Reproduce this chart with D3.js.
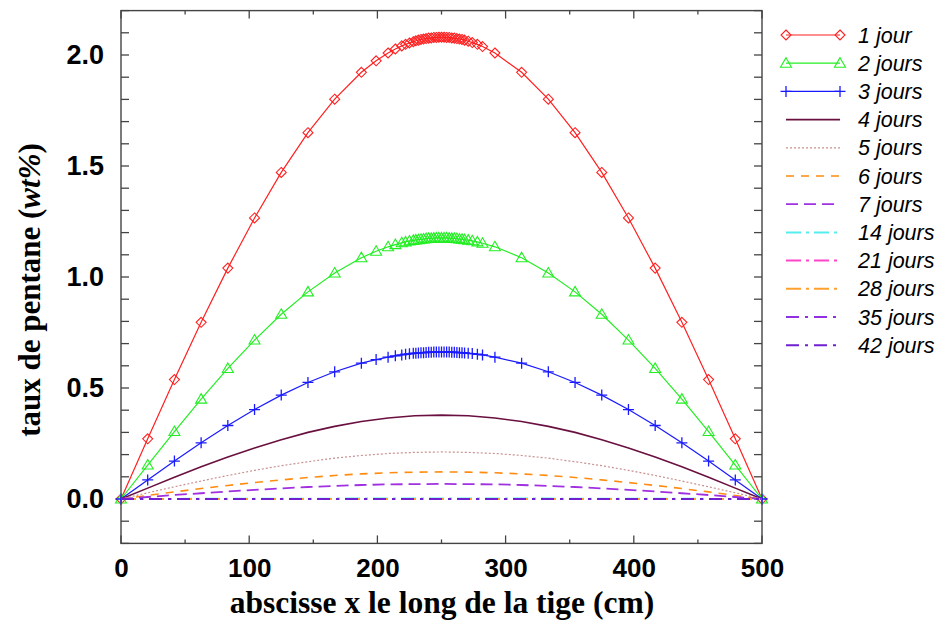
<!DOCTYPE html>
<html><head><meta charset="utf-8">
<script src="https://cdn.jsdelivr.net/npm/d3@7"></script>
<style>body{margin:0;background:#fff}svg{display:block}</style>
</head><body>
<svg id="c" width="940" height="621"></svg>
<script>
// Sampling abscissae (cm)
const xsDense = [0, 20.83, 41.67, 62.5, 83.33, 104.17, 125, 145.83, 166.67, 187.5, 199, 208.33, 214, 219, 222, 225, 228, 230, 232, 234, 236, 238, 240, 242, 244, 246, 248, 250, 252, 254, 256, 258, 260, 262, 264, 266, 268, 270.83, 274, 278, 282, 291.67, 312.5, 333.33, 354.17, 375, 395.83, 416.67, 437.5, 458.33, 479.17, 500];
const xsUniform = [0, 20.83, 41.67, 62.5, 83.33, 104.17, 125, 145.83, 166.67, 187.5, 208.33, 229.17, 250, 270.83, 291.67, 312.5, 333.33, 354.17, 375, 395.83, 416.67, 437.5, 458.33, 479.17, 500];

const day1 = [0, 0.271, 0.538, 0.796, 1.040, 1.266, 1.471, 1.650, 1.801, 1.922, 1.974, 2.009, 2.027, 2.041, 2.048, 2.054, 2.060, 2.064, 2.067, 2.070, 2.072, 2.074, 2.076, 2.077, 2.079, 2.079, 2.080, 2.080, 2.080, 2.079, 2.079, 2.077, 2.076, 2.074, 2.072, 2.070, 2.067, 2.062, 2.056, 2.048, 2.038, 2.009, 1.922, 1.801, 1.650, 1.471, 1.266, 1.040, 0.796, 0.538, 0.271, 0];
const day2 = [0, 0.153, 0.304, 0.450, 0.588, 0.716, 0.832, 0.933, 1.018, 1.087, 1.116, 1.136, 1.146, 1.154, 1.158, 1.162, 1.165, 1.167, 1.168, 1.170, 1.171, 1.173, 1.174, 1.174, 1.175, 1.176, 1.176, 1.176, 1.176, 1.176, 1.175, 1.174, 1.174, 1.173, 1.171, 1.170, 1.168, 1.166, 1.163, 1.158, 1.152, 1.136, 1.087, 1.018, 0.933, 0.832, 0.716, 0.588, 0.450, 0.304, 0.153, 0];
const day3 = [0, 0.086, 0.171, 0.253, 0.331, 0.403, 0.468, 0.525, 0.573, 0.612, 0.628, 0.639, 0.645, 0.649, 0.652, 0.654, 0.656, 0.657, 0.658, 0.659, 0.659, 0.660, 0.661, 0.661, 0.662, 0.662, 0.662, 0.662, 0.662, 0.662, 0.662, 0.661, 0.661, 0.660, 0.659, 0.659, 0.658, 0.656, 0.655, 0.652, 0.649, 0.639, 0.612, 0.573, 0.525, 0.468, 0.403, 0.331, 0.253, 0.171, 0.086, 0];
const day4 = [0, 0.049, 0.098, 0.145, 0.189, 0.230, 0.267, 0.300, 0.327, 0.349, 0.365, 0.375, 0.378, 0.375, 0.365, 0.349, 0.327, 0.300, 0.267, 0.230, 0.189, 0.145, 0.098, 0.049, 0];
const day5 = [0, 0.028, 0.055, 0.081, 0.106, 0.129, 0.150, 0.168, 0.184, 0.196, 0.205, 0.210, 0.212, 0.210, 0.205, 0.196, 0.184, 0.168, 0.150, 0.129, 0.106, 0.081, 0.055, 0.028, 0];
const day6 = [0, 0.016, 0.032, 0.047, 0.061, 0.074, 0.086, 0.097, 0.106, 0.113, 0.118, 0.121, 0.122, 0.121, 0.118, 0.113, 0.106, 0.097, 0.086, 0.074, 0.061, 0.047, 0.032, 0.016, 0];
const day7 = [0, 0.009, 0.018, 0.026, 0.034, 0.041, 0.048, 0.054, 0.059, 0.063, 0.066, 0.067, 0.068, 0.067, 0.066, 0.063, 0.059, 0.054, 0.048, 0.041, 0.034, 0.026, 0.018, 0.009, 0];
const day14 = [0, 0.0003, 0.0005, 0.0008, 0.001, 0.0012, 0.0014, 0.0016, 0.0017, 0.0018, 0.0019, 0.002, 0.002, 0.002, 0.0019, 0.0018, 0.0017, 0.0016, 0.0014, 0.0012, 0.001, 0.0008, 0.0005, 0.0003, 0];
const day21 = [0, 0, 0, 0, 0, 0, 0, 0, 0, 0, 0, 0, 0.0001, 0, 0, 0, 0, 0, 0, 0, 0, 0, 0, 0, 0];
const day28 = [0, 0, 0, 0, 0, 0, 0, 0, 0, 0, 0, 0, 0, 0, 0, 0, 0, 0, 0, 0, 0, 0, 0, 0, 0];
const day35 = [0, 0, 0, 0, 0, 0, 0, 0, 0, 0, 0, 0, 0, 0, 0, 0, 0, 0, 0, 0, 0, 0, 0, 0, 0];
const day42 = [0, 0, 0, 0, 0, 0, 0, 0, 0, 0, 0, 0, 0, 0, 0, 0, 0, 0, 0, 0, 0, 0, 0, 0, 0];

const seriesNames = ["1 jour", "2 jours", "3 jours", "4 jours", "5 jours", "6 jours", "7 jours", "14 jours", "21 jours", "28 jours", "35 jours", "42 jours"];
const xTickValues = [0, 100, 200, 300, 400, 500];
const yTickValues = [0.0, 0.5, 1.0, 1.5, 2.0];
const xLabel = "abscisse x le long de la tige (cm)";
const yLabelMain = "taux de pentane (";
const yLabelItalic = "wt%";
const yLabelEnd = ")";

const styles = [
  {color: "#ff2020", w: 1.2, dash: null, marker: "diamond"},
  {color: "#22ee22", w: 1.2, dash: null, marker: "triangle"},
  {color: "#1a1aff", w: 1.2, dash: null, marker: "plus"},
  {color: "#6a1040", w: 1.6, dash: null},
  {color: "#c89090", w: 1.2, dash: "2,2"},
  {color: "#ff8c10", w: 1.6, dash: "8,7"},
  {color: "#a030e0", w: 1.8, dash: "12,6"},
  {color: "#55eeee", w: 2, dash: "15,5,3,5"},
  {color: "#ff44cc", w: 2, dash: "15,5,3,5"},
  {color: "#ffa030", w: 2, dash: "15,5,3,5"},
  {color: "#9030e0", w: 2, dash: "13,6,3,6"},
  {color: "#7020d0", w: 2, dash: "13,6,3,6"}
];
const dataY = [day1, day2, day3, day4, day5, day6, day7, day14, day21, day28, day35, day42];
const dataX = [xsDense, xsDense, xsDense, xsUniform, xsUniform, xsUniform, xsUniform, xsUniform, xsUniform, xsUniform, xsUniform, xsUniform];

const svg = d3.select("#c");
const L = 121, R = 762, T = 10.6, B = 543.4;
const x = d3.scaleLinear().domain([0, 500]).range([L, R]);
const y = d3.scaleLinear().domain([-0.2, 2.2]).range([B, T]);
const axisColor = "#444";

// frame
svg.append("rect").attr("x", L).attr("y", T).attr("width", R - L).attr("height", B - T)
  .attr("fill", "none").attr("stroke", axisColor).attr("stroke-width", 1.4);

// ticks
const xMinor = d3.range(0, 501, 50);
const yMinor = d3.range(-2, 23).map(v => v / 10);
const tickG = svg.append("g").attr("stroke", axisColor).attr("stroke-width", 1.3);
xMinor.forEach(v => {
  const len = (v % 100 === 0) ? 8 : 4;
  tickG.append("line").attr("x1", x(v)).attr("x2", x(v)).attr("y1", B).attr("y2", B - len);
  tickG.append("line").attr("x1", x(v)).attr("x2", x(v)).attr("y1", T).attr("y2", T + len);
});
yMinor.forEach(v => {
  const len = 8;
  tickG.append("line").attr("x1", L).attr("x2", L + len).attr("y1", y(v)).attr("y2", y(v));
  tickG.append("line").attr("x1", R).attr("x2", R - len).attr("y1", y(v)).attr("y2", y(v));
});

// tick labels via axes
const xAxis = d3.axisBottom(x).tickValues(xTickValues).tickSize(0).tickPadding(0).tickFormat(d3.format("d"));
const gx = svg.append("g").attr("transform", `translate(0,${B})`).call(xAxis);
gx.select(".domain").remove();
gx.selectAll("text").attr("font-family", "Liberation Sans, Arial, sans-serif").attr("font-weight", "bold")
  .attr("font-size", 26).attr("fill", "#000").attr("dy", "1.3em");
const yAxis = d3.axisLeft(y).tickValues(yTickValues).tickSize(0).tickPadding(17).tickFormat(d3.format(".1f"));
const gy = svg.append("g").attr("transform", `translate(${L},0)`).call(yAxis);
gy.select(".domain").remove();
gy.selectAll("text").attr("font-family", "Liberation Sans, Arial, sans-serif").attr("font-weight", "bold")
  .attr("font-size", 27).attr("fill", "#000");

// axis titles
svg.append("text").attr("x", 442).attr("y", 613).attr("text-anchor", "middle")
  .attr("font-family", "Liberation Serif, Times New Roman, serif").attr("font-weight", "bold").attr("font-size", 31.5)
  .text(xLabel);
const yt = svg.append("text").attr("transform", `translate(40,290) rotate(-90)`).attr("text-anchor", "middle")
  .attr("font-family", "Liberation Serif, Times New Roman, serif").attr("font-weight", "bold").attr("font-size", 31);
yt.append("tspan").text(yLabelMain);
yt.append("tspan").attr("font-style", "italic").text(yLabelItalic);
yt.append("tspan").text(yLabelEnd);

// markers
function marker(g, type, cx, cy, color) {
  if (type === "diamond") {
    g.append("path").attr("d", `M${cx},${cy - 5}L${cx + 5},${cy}L${cx},${cy + 5}L${cx - 5},${cy}Z`)
      .attr("fill", "none").attr("stroke", color).attr("stroke-width", 1.1);
  } else if (type === "triangle") {
    g.append("path").attr("d", `M${cx},${cy - 5.5}L${cx + 5.5},${cy + 4}L${cx - 5.5},${cy + 4}Z`)
      .attr("fill", "none").attr("stroke", color).attr("stroke-width", 1.1);
  } else if (type === "plus") {
    g.append("path").attr("d", `M${cx - 5.5},${cy}L${cx + 5.5},${cy}M${cx},${cy - 5.5}L${cx},${cy + 5.5}`)
      .attr("fill", "none").attr("stroke", color).attr("stroke-width", 1.3);
  }
}

// lines
const plot = svg.append("g");
dataY.forEach((ys, i) => {
  const st = styles[i];
  const pts = ys.map((v, j) => [dataX[i][j], v]);
  const line = d3.line().x(d => x(d[0])).y(d => y(d[1]));
  plot.append("path").attr("d", line(pts)).attr("fill", "none").attr("stroke", st.color)
    .attr("stroke-width", st.w).attr("stroke-dasharray", st.dash);
  if (st.marker) {
    const mg = plot.append("g");
    pts.forEach(p => marker(mg, st.marker, x(p[0]), y(p[1]), st.color));
  }
});

// legend
const lg = svg.append("g");
const ly0 = 35, ldy = 28.2, lx1 = 786, lx2 = 840, ltx = 858;
seriesNames.forEach((name, i) => {
  const st = styles[i];
  const yy = ly0 + i * ldy;
  lg.append("line").attr("x1", lx1).attr("x2", lx2).attr("y1", yy).attr("y2", yy)
    .attr("stroke", st.color).attr("stroke-width", st.w).attr("stroke-dasharray", st.dash);
  if (st.marker) { marker(lg, st.marker, lx1, yy, st.color); marker(lg, st.marker, lx2, yy, st.color); }
  lg.append("text").attr("x", ltx).attr("y", yy + 7.5).attr("font-family", "Liberation Sans, Arial, sans-serif")
    .attr("font-style", "italic").attr("font-size", 21.5).attr("fill", "#000").text(name);
});
</script>
</body></html>
